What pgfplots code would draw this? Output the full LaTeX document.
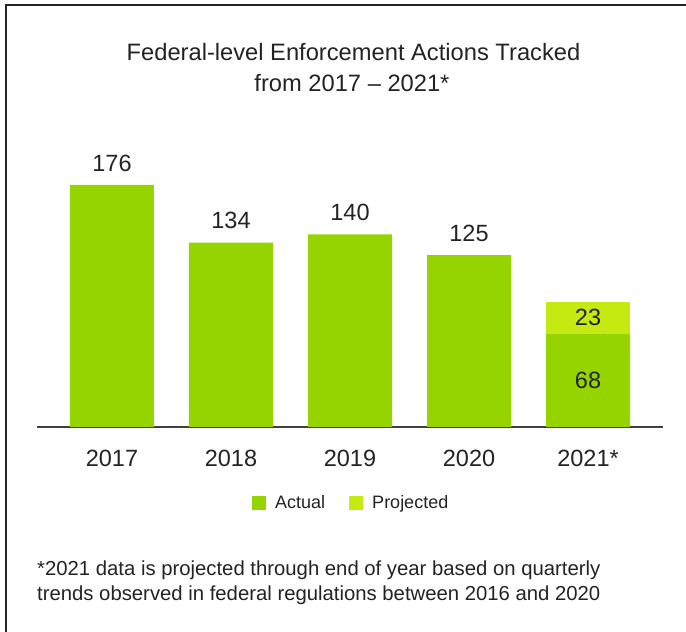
\documentclass[border=0pt]{standalone}
\usepackage{pgfplots}
\pgfplotsset{compat=1.18}
\usepackage{fontspec}
\setmainfont{Liberation Sans}
\definecolor{actual}{RGB}{150,212,0}
\definecolor{proj}{RGB}{197,234,18}
\definecolor{txt}{RGB}{35,35,35}
\begin{document}
\begin{tikzpicture}
\path[use as bounding box] (0pt,0pt) rectangle (686pt,632pt);
\draw[line width=2pt, black!85] (6pt,0pt) -- (6pt,627pt) -- (686pt,627pt);
\node[text=txt, font=\fontsize{23.7}{31}\selectfont, anchor=base, inner sep=0pt] at (353.5pt,571pt) {Federal-level Enforcement Actions Tracked};
\node[text=txt, font=\fontsize{23.7}{31}\selectfont, anchor=base, inner sep=0pt] at (352pt,540pt) {from 2017 -- 2021*};
\begin{axis}[
  at={(37pt,205pt)}, anchor=south west,
  scale only axis, width=626pt, height=275pt,
  xmin=-0.63, xmax=4.63, ymin=0, ymax=200,
  axis x line*=bottom, axis y line=none,
  x axis line style={-, line width=1.5pt, draw=black!75},
  xtick={0,1,2,3,4}, xticklabels={2017,2018,2019,2020,2021*},
  major tick length=0pt, ytick=\empty,
  xticklabel style={font=\fontsize{23.5}{28}\selectfont, text=txt, anchor=center, yshift=-31pt},
  ybar stacked, bar width=84pt,
  clip=false,
  legend columns=2,
  legend style={at={(0.502,-0.2764)}, anchor=center, draw=none, fill=none,
    font=\fontsize{18}{20}\selectfont, text=txt,
    /tikz/every odd column/.append style={column sep=7pt},
    /tikz/every even column/.append style={column sep=22pt}},
]
\addplot[fill=actual, draw=none, legend image code/.code={\fill[actual] (0pt,-7pt) rectangle (14pt,7pt);}]
  coordinates {(0,176) (1,134) (2,140) (3,125) (4,68)};
\addlegendentry{Actual}
\addplot[fill=proj, draw=none, legend image code/.code={\fill[proj] (0pt,-7pt) rectangle (14pt,7pt);}]
  coordinates {(0,0) (1,0) (2,0) (3,0) (4,23)};
\addlegendentry{Projected}
\end{axis}
\begin{axis}[
  at={(37pt,205pt)}, anchor=south west,
  scale only axis, width=626pt, height=275pt,
  xmin=-0.63, xmax=4.63, ymin=0, ymax=200,
  hide axis, clip=false,
]
\addplot[draw=none, mark=none, nodes near coords, point meta=explicit symbolic,
  nodes near coords style={anchor=center, yshift=22pt, font=\fontsize{23.5}{28}\selectfont, text=txt}]
  coordinates {(0,176)[176] (1,134)[134] (2,140)[140] (3,125)[125]};
\addplot[draw=none, mark=none, nodes near coords, point meta=explicit symbolic,
  nodes near coords style={anchor=center, font=\fontsize{23.5}{28}\selectfont, text=txt}]
  coordinates {(4,34)[68] (4,79.5)[23]};
\end{axis}
\node[text=txt, font=\fontsize{20.3}{25}\selectfont, anchor=base west, inner sep=0pt] at (37pt,56pt) {*2021 data is projected through end of year based on quarterly};
\node[text=txt, font=\fontsize{20.3}{25}\selectfont, anchor=base west, inner sep=0pt] at (37pt,31pt) {trends observed in federal regulations between 2016 and 2020};
\end{tikzpicture}
\end{document}
